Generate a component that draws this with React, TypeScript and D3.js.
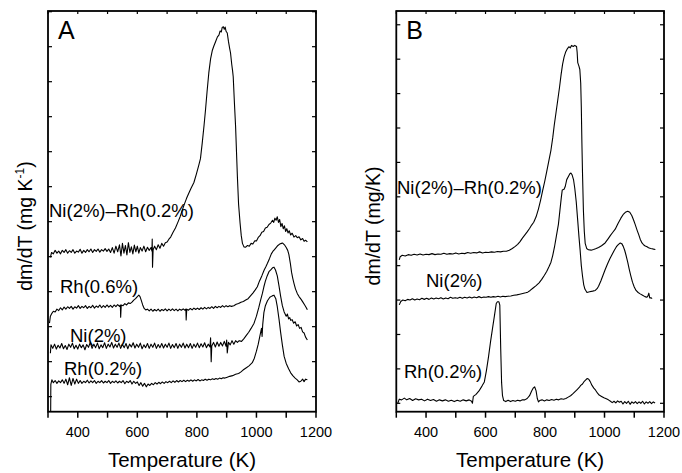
import React, { useEffect, useRef } from 'react';
import * as d3 from 'd3';

type Pt = [number, number];

const W = 682;
const H = 473;
const FONT = '"Liberation Sans", Arial, Helvetica, sans-serif';

// temperature axis (K)
const tempTicks = [300, 400, 500, 600, 700, 800, 900, 1000, 1100, 1200];
const tempLabels = [400, 600, 800, 1000, 1200];
// dm/dT axis has unlabelled ticks, one arbitrary unit apart
const aRateTicks = [0, 1, 2, 3, 4, 5, 6, 7, 8, 9, 10, 11];
const bRateTicks = [0, 1, 2, 3, 4, 5, 6, 7, 8, 9, 10, 11];

const aNames = ['Ni(2%)–Rh(0.2%)', 'Rh(0.6%)', 'Ni(2%)', 'Rh(0.2%)'];
const bNames = ['Ni(2%)–Rh(0.2%)', 'Ni(2%)', 'Rh(0.2%)'];

// ---- panel A : [T (K), dm/dT (arb.)] ----
const aNiRh: Pt[] = [
  [308, 3.98], [312, 4.12], [318, 4.08], [324, 4.18], [330, 4.1], [336, 4.16], [342, 4.08], [348, 4.18], [354, 4.12],
  [360, 4.2], [366, 4.1], [372, 4.17], [378, 4.12], [384, 4.2], [390, 4.1], [396, 4.16], [402, 4.13], [408, 4.21],
  [414, 4.1], [420, 4.18], [426, 4.12], [432, 4.2], [438, 4.14], [444, 4.22], [450, 4.12], [456, 4.2], [462, 4.15],
  [468, 4.22], [474, 4.13], [480, 4.2], [486, 4.16], [492, 4.23], [498, 4.15], [504, 4.22], [510, 4.12], [516, 4.26],
  [522, 4.1], [528, 4.3], [534, 4.14], [540, 4.34], [545, 4.02], [550, 4.38], [555, 4.1], [560, 4.32], [565, 4.05],
  [570, 4.4], [575, 4.12], [580, 4.28], [585, 4.08], [590, 4.33], [595, 4.14], [600, 4.3], [605, 4.1], [610, 4.26],
  [616, 4.16], [622, 4.3], [628, 4.14], [634, 4.27], [640, 4.18], [646, 4.26], [649, 4.16], [650, 4.5], [651, 3.7],
  [653, 4.2], [658, 4.3], [664, 4.2], [670, 4.34], [676, 4.24], [682, 4.38], [688, 4.3], [694, 4.4], [700, 4.42],
  [706, 4.5], [712, 4.56], [720, 4.7], [728, 4.82], [736, 4.98], [744, 5.15], [751, 5.33], [758, 5.5], [765, 5.66],
  [772, 5.8], [780, 5.95], [790, 6.12], [798, 6.35], [806, 6.6], [812, 6.8], [818, 7.25], [824, 7.75], [829, 8.2],
  [834, 8.7], [840, 9.25], [846, 9.65], [852, 9.9], [857, 10.02], [863, 10.15], [869, 10.28], [874, 10.33],
  [878, 10.45], [882, 10.42], [885, 10.55], [889, 10.57], [892, 10.5], [895, 10.56], [898, 10.44], [902, 10.39],
  [906, 10.15], [910, 9.95], [913, 9.82], [917, 9.5], [920, 9.3], [922, 9.14], [926, 8.4], [930, 7.71], [933, 7.0],
  [936, 6.29], [940, 5.5], [945, 4.96], [949, 4.6], [953, 4.38], [958, 4.28], [964, 4.27], [970, 4.32], [976, 4.3],
  [982, 4.38], [988, 4.36], [994, 4.45], [1000, 4.45], [1006, 4.55], [1012, 4.6], [1018, 4.7], [1024, 4.72],
  [1030, 4.82], [1036, 4.84], [1042, 4.92], [1048, 4.96], [1054, 5.04], [1058, 4.98], [1062, 5.1], [1066, 5.04],
  [1070, 5.14], [1074, 4.98], [1078, 5.06], [1082, 4.86], [1086, 4.95], [1090, 4.8], [1094, 4.88], [1098, 4.72],
  [1102, 4.8], [1106, 4.68], [1110, 4.74], [1115, 4.62], [1120, 4.67], [1126, 4.56], [1132, 4.6], [1137, 4.54],
  [1143, 4.57], [1149, 4.48], [1155, 4.52], [1160, 4.44], [1165, 4.47], [1171, 4.42],
];

const aRh06: Pt[] = [
  [305, 2.1], [308, 2.3], [313, 2.38], [318, 2.44], [324, 2.42], [330, 2.5], [336, 2.46], [342, 2.54], [348, 2.48],
  [354, 2.56], [360, 2.5], [366, 2.57], [372, 2.52], [378, 2.58], [384, 2.5], [390, 2.57], [396, 2.53], [402, 2.6],
  [408, 2.52], [414, 2.58], [420, 2.54], [426, 2.6], [432, 2.52], [438, 2.58], [444, 2.54], [450, 2.61], [456, 2.53],
  [462, 2.59], [468, 2.55], [474, 2.62], [480, 2.54], [486, 2.6], [492, 2.55], [498, 2.62], [504, 2.56], [510, 2.61],
  [516, 2.55], [522, 2.62], [528, 2.57], [534, 2.63], [540, 2.58], [543, 2.62], [544, 2.27], [546, 2.62],
  [552, 2.6], [558, 2.66], [564, 2.62], [570, 2.68], [576, 2.66], [582, 2.7], [588, 2.76], [594, 2.8], [600, 2.86],
  [605, 2.9], [609, 2.86], [613, 2.76], [618, 2.62], [623, 2.52], [628, 2.48], [634, 2.5], [640, 2.45],
  [646, 2.5], [652, 2.44], [658, 2.49], [664, 2.45], [670, 2.5], [676, 2.44], [682, 2.49], [688, 2.46], [694, 2.51],
  [700, 2.45], [706, 2.5], [712, 2.46], [718, 2.51], [724, 2.46], [730, 2.5], [736, 2.45], [742, 2.5], [748, 2.47],
  [754, 2.51], [760, 2.47], [763, 2.5], [764, 2.19], [766, 2.5], [772, 2.47], [778, 2.52], [784, 2.48], [790, 2.53],
  [796, 2.49], [802, 2.53], [808, 2.49], [814, 2.54], [820, 2.5], [826, 2.55], [832, 2.51], [838, 2.55], [844, 2.52],
  [850, 2.57], [856, 2.52], [862, 2.58], [868, 2.54], [874, 2.58], [880, 2.55], [886, 2.6], [892, 2.56], [898, 2.6],
  [904, 2.57], [910, 2.6], [916, 2.58], [924, 2.6], [932, 2.64], [940, 2.66], [948, 2.7], [956, 2.72], [964, 2.76],
  [972, 2.8], [980, 2.88], [988, 2.96], [996, 3.05], [1003, 3.14], [1010, 3.3], [1018, 3.45], [1026, 3.62],
  [1032, 3.72], [1037, 3.81], [1044, 3.95], [1050, 4.08], [1055, 4.15], [1059, 4.19], [1066, 4.26], [1072, 4.32],
  [1078, 4.36], [1084, 4.38], [1088, 4.39], [1094, 4.34], [1100, 4.26], [1105, 4.18], [1109, 4.06], [1114, 3.8],
  [1118, 3.55], [1122, 3.38], [1126, 3.24], [1131, 3.08], [1137, 2.95], [1143, 2.86], [1150, 2.78], [1156, 2.7],
  [1162, 2.62], [1167, 2.55], [1171, 2.48],
];

const aNi2: Pt[] = [
  [308, 1.24], [310, 1.48], [316, 1.38], [322, 1.5], [328, 1.36], [334, 1.47], [340, 1.39], [346, 1.52], [352, 1.37],
  [358, 1.46], [364, 1.35], [370, 1.5], [376, 1.41], [382, 1.53], [388, 1.37], [394, 1.47], [400, 1.36], [406, 1.5],
  [412, 1.4], [418, 1.48], [424, 1.34], [430, 1.49], [436, 1.41], [442, 1.55], [448, 1.38], [454, 1.5], [460, 1.4],
  [466, 1.53], [472, 1.37], [478, 1.48], [484, 1.4], [490, 1.54], [496, 1.38], [502, 1.5], [508, 1.42], [514, 1.55],
  [520, 1.39], [526, 1.5], [532, 1.41], [538, 1.53], [544, 1.38], [550, 1.49], [556, 1.4], [562, 1.52], [568, 1.37],
  [574, 1.5], [580, 1.42], [586, 1.54], [592, 1.39], [598, 1.5], [604, 1.41], [610, 1.53], [616, 1.37], [622, 1.48],
  [628, 1.4], [634, 1.52], [640, 1.38], [646, 1.5], [652, 1.41], [658, 1.53], [664, 1.38], [670, 1.49], [676, 1.4],
  [682, 1.52], [688, 1.39], [694, 1.5], [700, 1.41], [706, 1.53], [712, 1.38], [718, 1.49], [724, 1.4], [730, 1.52],
  [736, 1.38], [742, 1.5], [748, 1.41], [754, 1.53], [760, 1.39], [766, 1.5], [772, 1.4], [778, 1.52], [784, 1.38],
  [790, 1.5], [796, 1.41], [802, 1.53], [808, 1.4], [814, 1.51], [820, 1.42], [826, 1.54], [832, 1.4], [838, 1.5],
  [844, 1.42], [846, 1.68], [848, 1.0], [850, 1.45], [856, 1.55], [862, 1.42], [868, 1.56], [874, 1.44], [880, 1.55],
  [886, 1.45], [892, 1.58], [898, 1.44], [900, 1.62], [902, 1.25], [906, 1.55], [912, 1.48], [918, 1.6], [924, 1.5],
  [930, 1.6], [936, 1.55], [942, 1.6], [950, 1.58], [958, 1.66], [966, 1.75], [974, 1.84], [982, 1.95], [992, 2.1],
  [1000, 2.3], [1008, 2.55], [1014, 2.76], [1020, 2.95], [1025, 3.14], [1030, 3.3], [1036, 3.45], [1042, 3.57],
  [1048, 3.62], [1054, 3.68], [1059, 3.7], [1064, 3.62], [1070, 3.45], [1076, 3.15], [1081, 2.88], [1087, 2.6],
  [1093, 2.42], [1100, 2.3], [1104, 2.36], [1108, 2.22], [1112, 2.26], [1115, 2.18], [1120, 2.2], [1125, 2.1],
  [1130, 2.14], [1135, 2.02], [1140, 2.06], [1145, 1.95], [1150, 1.98], [1155, 1.85], [1160, 1.82], [1165, 1.7],
  [1171, 1.62],
];

const aRh02: Pt[] = [
  [309, -0.43], [309.5, 0.35], [313, 0.48], [318, 0.4], [324, 0.46], [330, 0.38], [336, 0.45], [342, 0.4],
  [348, 0.48], [354, 0.38], [360, 0.5], [366, 0.34], [372, 0.54], [378, 0.32], [384, 0.52], [390, 0.36],
  [396, 0.5], [402, 0.38], [408, 0.46], [414, 0.38], [420, 0.44], [426, 0.4], [432, 0.47], [438, 0.39],
  [444, 0.45], [450, 0.4], [456, 0.46], [462, 0.38], [468, 0.44], [474, 0.4], [480, 0.46], [486, 0.39],
  [492, 0.44], [498, 0.4], [504, 0.46], [510, 0.38], [516, 0.44], [522, 0.4], [528, 0.45], [534, 0.39],
  [540, 0.44], [546, 0.4], [552, 0.46], [558, 0.37], [564, 0.44], [570, 0.4], [576, 0.46], [582, 0.36],
  [588, 0.44], [594, 0.38], [600, 0.42], [606, 0.32], [612, 0.4], [618, 0.3], [624, 0.38], [630, 0.28],
  [636, 0.36], [642, 0.32], [648, 0.38], [654, 0.34], [660, 0.4], [666, 0.36], [672, 0.41], [678, 0.37],
  [684, 0.42], [690, 0.38], [696, 0.43], [702, 0.4], [708, 0.44], [714, 0.4], [720, 0.45], [726, 0.41],
  [732, 0.46], [738, 0.42], [744, 0.46], [750, 0.43], [756, 0.47], [762, 0.43], [768, 0.47], [774, 0.44],
  [780, 0.48], [786, 0.44], [792, 0.48], [798, 0.45], [804, 0.49], [810, 0.45], [816, 0.48], [822, 0.46],
  [828, 0.5], [834, 0.47], [840, 0.5], [846, 0.48], [852, 0.51], [858, 0.49], [864, 0.52], [870, 0.5],
  [876, 0.53], [882, 0.51], [888, 0.54], [894, 0.53], [900, 0.55], [910, 0.58], [920, 0.6], [930, 0.64],
  [940, 0.66], [947, 0.7], [955, 0.76], [965, 0.82], [975, 0.88], [986, 0.97], [993, 1.1], [1000, 1.3],
  [1006, 1.5], [1012, 1.75], [1017, 1.95], [1019, 1.72], [1021, 2.05], [1025, 2.4], [1030, 2.6], [1037, 2.74],
  [1045, 2.84], [1053, 2.88], [1059, 2.9], [1065, 2.8], [1070, 2.57], [1076, 2.2], [1081, 1.85], [1087, 1.48],
  [1093, 1.15], [1100, 0.95], [1108, 0.8], [1115, 0.68], [1122, 0.6], [1130, 0.53], [1137, 0.48], [1143, 0.42],
  [1149, 0.44], [1155, 0.5], [1160, 0.43], [1165, 0.5], [1171, 0.48],
];

// ---- panel B : [T (K), dm/dT (arb.)] ----
const bNiRh: Pt[] = [
  [310, 4.17], [313, 4.26], [320, 4.3], [330, 4.28], [340, 4.32], [350, 4.3], [360, 4.33], [370, 4.31], [380, 4.34],
  [390, 4.31], [400, 4.33], [410, 4.32], [420, 4.35], [430, 4.32], [440, 4.34], [450, 4.33], [460, 4.36], [470, 4.33],
  [480, 4.35], [490, 4.34], [500, 4.37], [510, 4.34], [520, 4.36], [530, 4.35], [540, 4.38], [550, 4.36], [560, 4.38],
  [570, 4.37], [580, 4.4], [590, 4.37], [600, 4.39], [610, 4.38], [620, 4.4], [630, 4.39], [640, 4.41], [650, 4.4],
  [660, 4.42], [670, 4.42], [680, 4.45], [690, 4.5], [700, 4.56], [708, 4.62], [716, 4.7], [724, 4.8], [733, 4.9],
  [740, 4.98], [748, 5.08], [755, 5.18], [762, 5.26], [770, 5.42], [778, 5.65], [785, 5.9], [792, 6.18], [799, 6.45],
  [806, 6.75], [813, 7.05], [820, 7.36], [826, 7.72], [831, 8.08], [837, 8.45], [843, 8.82], [849, 9.2], [854, 9.55],
  [859, 9.85], [864, 10.06], [869, 10.2], [875, 10.3], [880, 10.36], [885, 10.33], [889, 10.4], [895, 10.37],
  [900, 10.4], [906, 10.37], [908, 10.2], [910, 9.9], [914, 9.8], [917, 9.7], [920, 9.3], [922, 8.6], [924, 7.56],
  [926, 6.7], [929, 5.62], [932, 5.0], [935, 4.65], [940, 4.5], [946, 4.46], [955, 4.45], [963, 4.47], [970, 4.49],
  [980, 4.53], [990, 4.58], [1002, 4.66], [1012, 4.78], [1020, 4.88], [1028, 4.97], [1036, 5.06], [1045, 5.22],
  [1055, 5.38], [1064, 5.5], [1070, 5.55], [1078, 5.58], [1085, 5.55], [1092, 5.45], [1098, 5.32], [1103, 5.2],
  [1110, 5.02], [1115, 4.9], [1120, 4.77], [1126, 4.66], [1132, 4.6], [1137, 4.57], [1143, 4.55], [1148, 4.52],
  [1155, 4.5], [1160, 4.49], [1165, 4.48], [1171, 4.47],
];

const bNi2: Pt[] = [
  [310, 2.86], [315, 2.96], [322, 3.0], [330, 2.98], [338, 3.02], [346, 3.0], [354, 3.04], [362, 3.0], [370, 3.03],
  [378, 3.01], [386, 3.05], [394, 3.02], [402, 3.05], [410, 3.02], [418, 3.06], [426, 3.03], [434, 3.06], [442, 3.04],
  [450, 3.07], [458, 3.03], [466, 3.06], [474, 3.04], [482, 3.08], [490, 3.05], [498, 3.07], [506, 3.05], [514, 3.08],
  [522, 3.05], [530, 3.08], [538, 3.06], [546, 3.09], [554, 3.06], [562, 3.09], [570, 3.07], [578, 3.1], [586, 3.07],
  [594, 3.09], [602, 3.08], [610, 3.1], [618, 3.08], [626, 3.1], [634, 3.09], [642, 3.11], [650, 3.09], [658, 3.11],
  [666, 3.1], [675, 3.11], [685, 3.12], [695, 3.14], [705, 3.15], [715, 3.17], [725, 3.19], [735, 3.21], [742, 3.23],
  [750, 3.28], [760, 3.35], [770, 3.42], [780, 3.5], [789, 3.6], [798, 3.72], [806, 3.84], [814, 3.98], [820, 4.1],
  [826, 4.3], [832, 4.55], [838, 4.85], [845, 5.2], [850, 5.6], [855, 6.0], [858, 6.2], [864, 6.22], [868, 6.3],
  [873, 6.5], [879, 6.6], [884, 6.68], [887, 6.69], [891, 6.64], [896, 6.49], [900, 6.25], [905, 5.85], [910, 5.3],
  [914, 4.85], [918, 4.45], [922, 4.0], [926, 3.7], [930, 3.45], [934, 3.32], [941, 3.22], [950, 3.24], [960, 3.26],
  [969, 3.28], [975, 3.33], [980, 3.4], [988, 3.56], [995, 3.72], [1002, 3.88], [1010, 4.05], [1018, 4.2],
  [1025, 4.32], [1033, 4.45], [1040, 4.55], [1047, 4.62], [1053, 4.66], [1058, 4.64], [1063, 4.56], [1068, 4.44],
  [1073, 4.28], [1078, 4.1], [1083, 3.9], [1088, 3.72], [1094, 3.52], [1100, 3.38], [1106, 3.28], [1113, 3.22],
  [1120, 3.18], [1128, 3.14], [1136, 3.1], [1142, 3.08], [1146, 3.12], [1149, 3.2], [1152, 3.06], [1156, 3.07],
  [1160, 3.04],
];

const bRh02: Pt[] = [
  [305, 0.0], [310, 0.12], [318, 0.1], [327, 0.15], [335, 0.1], [345, 0.14], [355, 0.08], [365, 0.13], [375, 0.1],
  [385, 0.12], [395, 0.07], [405, 0.12], [415, 0.08], [425, 0.11], [435, 0.06], [445, 0.1], [455, 0.07], [465, 0.1],
  [475, 0.06], [485, 0.09], [495, 0.05], [505, 0.09], [515, 0.06], [525, 0.1], [535, 0.07], [545, 0.1], [553, 0.06],
  [556, 0.0], [559, 0.2], [568, 0.26], [578, 0.36], [588, 0.5], [596, 0.62], [603, 0.95], [610, 1.35], [617, 1.8],
  [623, 2.15], [630, 2.55], [636, 2.9], [640, 2.95], [645, 2.95], [648, 2.85], [651, 1.6], [654, 0.6], [657, 0.22],
  [661, 0.08], [668, 0.05], [676, 0.09], [684, 0.05], [692, 0.08], [700, 0.06], [708, 0.09], [716, 0.07], [724, 0.1],
  [732, 0.1], [740, 0.14], [748, 0.22], [755, 0.36], [760, 0.44], [765, 0.48], [770, 0.36], [774, 0.14], [778, 0.04],
  [782, 0.08], [790, 0.1], [798, 0.07], [806, 0.1], [814, 0.08], [822, 0.11], [830, 0.09], [838, 0.12], [846, 0.1],
  [854, 0.13], [862, 0.12], [870, 0.14], [878, 0.18], [886, 0.22], [894, 0.28], [901, 0.34], [908, 0.4], [915, 0.46],
  [920, 0.52], [926, 0.56], [932, 0.64], [937, 0.68], [942, 0.72], [947, 0.7], [952, 0.63], [958, 0.52], [964, 0.44],
  [970, 0.38], [976, 0.3], [982, 0.24], [990, 0.2], [998, 0.16], [1006, 0.13], [1013, 0.1], [1020, 0.06],
  [1026, 0.02], [1032, 0.06], [1038, 0.01], [1044, 0.07], [1050, 0.03], [1056, 0.06], [1062, -0.02], [1068, 0.05],
  [1074, 0.0], [1080, 0.06], [1086, -0.03], [1092, 0.04], [1098, 0.0], [1104, 0.05], [1110, -0.01], [1116, 0.04],
  [1122, 0.0], [1128, 0.06], [1134, -0.02], [1140, 0.04], [1146, 0.0], [1152, 0.05], [1158, -0.01], [1164, 0.04],
  [1170, 0.01],
];

const App = () => {
  const svgRef = useRef<SVGSVGElement>(null);

  useEffect(() => {
    const svg = d3.select(svgRef.current);
    svg.selectAll('*').remove();

    const panels = [
      {
        letter: 'A', left: 48, right: 316, yDomain: [-0.43, 11.02], yTicks: aRateTicks,
        series: [aNiRh, aRh06, aNi2, aRh02], names: aNames,
        namePos: [[49, 216.5], [60, 293], [70, 341.5], [64, 375]],
        yLabelX: 32, unit: 'K', sup: true,
      },
      {
        letter: 'B', left: 396.3, right: 664, yDomain: [-0.244, 11.4], yTicks: bRateTicks,
        series: [bNiRh, bNi2, bRh02], names: bNames,
        namePos: [[397, 194], [426, 287], [404, 378]],
        yLabelX: 380, unit: '/K', sup: false,
      },
    ];

    const top = 11;
    const bottom = 411.7;

    panels.forEach((p, pi) => {
      const x = d3.scaleLinear().domain([300, 1200]).range([p.left, p.right]);
      const y = d3.scaleLinear().domain(p.yDomain).range([bottom, top]);
      const g = svg.append('g');

      const clipId = `clip${pi}`;
      svg.append('defs').append('clipPath').attr('id', clipId)
        .append('rect').attr('x', p.left).attr('y', top).attr('width', p.right - p.left).attr('height', bottom - top);

      const line = d3.line<Pt>().x(d => x(d[0])).y(d => y(d[1]));

      g.append('g').attr('clip-path', `url(#${clipId})`)
        .selectAll('path')
        .data(p.series)
        .join('path')
        .attr('d', d => line(d))
        .attr('fill', 'none')
        .attr('stroke', '#000')
        .attr('stroke-width', 1.1)
        .attr('stroke-linejoin', 'round');

      // frame
      g.append('rect')
        .attr('x', p.left).attr('y', top)
        .attr('width', p.right - p.left).attr('height', bottom - top)
        .attr('fill', 'none').attr('stroke', '#000').attr('stroke-width', 1.8);

      // bottom ticks (outward) + top ticks (inward)
      g.selectAll('.xt').data(tempTicks).join('line')
        .attr('x1', d => x(d)).attr('x2', d => x(d))
        .attr('y1', bottom).attr('y2', bottom + 6)
        .attr('stroke', '#000').attr('stroke-width', 1.5);
      g.selectAll('.xtt').data(tempTicks).join('line')
        .attr('x1', d => x(d)).attr('x2', d => x(d))
        .attr('y1', top).attr('y2', top + 3)
        .attr('stroke', '#000').attr('stroke-width', 1.2);

      // y ticks both sides, inward
      g.selectAll('.yl').data(p.yTicks).join('line')
        .attr('x1', p.left).attr('x2', p.left + 4)
        .attr('y1', d => y(d)).attr('y2', d => y(d))
        .attr('stroke', '#000').attr('stroke-width', 1.2);
      g.selectAll('.yr').data(p.yTicks).join('line')
        .attr('x1', p.right - 4).attr('x2', p.right)
        .attr('y1', d => y(d)).attr('y2', d => y(d))
        .attr('stroke', '#000').attr('stroke-width', 1.2);

      g.selectAll('.xl').data(tempLabels).join('text')
        .attr('x', d => x(d)).attr('y', 436.5)
        .attr('text-anchor', 'middle')
        .style('font-family', FONT).style('font-size', '14.5px')
        .text(d => d);

      g.append('text')
        .attr('x', (p.left + p.right) / 2).attr('y', 467)
        .attr('text-anchor', 'middle')
        .style('font-family', FONT).style('font-size', '20.5px')
        .text('Temperature (K)');

      const yl = g.append('text')
        .attr('transform', `translate(${p.yLabelX},226) rotate(-90)`)
        .attr('text-anchor', 'middle')
        .style('font-family', FONT).style('font-size', '19.5px');
      if (p.sup) {
        yl.append('tspan').text('dm/dT (mg K');
        yl.append('tspan').attr('dy', -8).style('font-size', '12px').text('-1');
        yl.append('tspan').attr('dy', 8).text(')');
      } else {
        yl.text(`dm/dT (mg${p.unit})`);
      }

      g.append('text')
        .attr('x', p.left + 10).attr('y', 39)
        .style('font-family', FONT).style('font-size', '25px')
        .text(p.letter);

      g.selectAll('.nm').data(p.names).join('text')
        .attr('x', (d, i) => p.namePos[i][0]).attr('y', (d, i) => p.namePos[i][1])
        .style('font-family', FONT).style('font-size', '18.5px')
        .text(d => d);
    });
  }, []);

  return (
    <svg ref={svgRef} width={W} height={H}
      style={{ position: 'absolute', left: 0, top: 0, background: '#fff' }} />
  );
};

export default App;
